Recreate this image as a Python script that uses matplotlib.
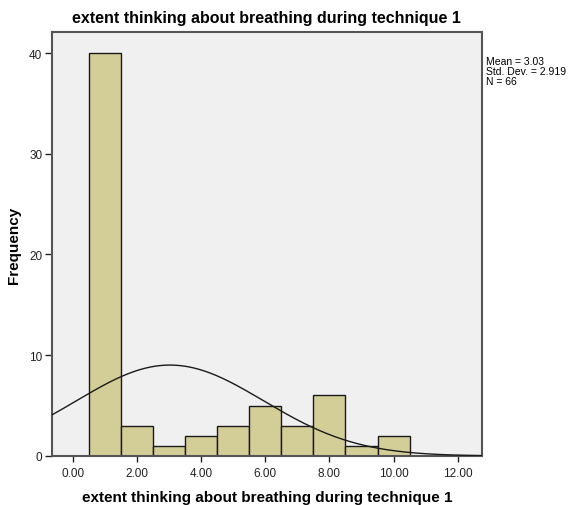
import numpy as np
import matplotlib
matplotlib.use('Agg')
import matplotlib.pyplot as plt

plt.rcParams['font.family'] = ['Liberation Sans', 'DejaVu Sans']

# histogram data (bin centres and counts)
bin_centres = [1, 2, 3, 4, 5, 6, 7, 8, 9, 10]
counts = [40, 3, 1, 2, 3, 5, 3, 6, 1, 2]
mean = 3.03
std = 2.919
n = 66

x_ticks = [0, 2, 4, 6, 8, 10, 12]
x_labels = ['0.00', '2.00', '4.00', '6.00', '8.00', '10.00', '12.00']
y_ticks = [0, 10, 20, 30, 40]

fig = plt.figure(figsize=(5.77, 5.06), dpi=100)
ax = fig.add_axes([0.090, 0.097, 0.745, 0.838])
ax.set_facecolor('#f0f0f0')

ax.bar(bin_centres, counts, width=1.0, color='#d3ce97', edgecolor='#1a1a1a', linewidth=1.0, zorder=2)

# normal curve scaled to counts (bin width 1)
xs = np.linspace(-0.65, 12.75, 400)
ys = n * 1.0 / (std * np.sqrt(2 * np.pi)) * np.exp(-0.5 * ((xs - mean) / std) ** 2)
ax.plot(xs, ys, color='#1a1a1a', linewidth=1.0, zorder=3)

ax.set_xlim(-0.65, 12.75)
ax.set_ylim(0, 42.1)
ax.set_xticks(x_ticks)
ax.set_xticklabels(x_labels)
ax.set_yticks(y_ticks)
ax.tick_params(axis='both', labelsize=8.5, colors='#222222', length=5, width=1, direction='out', pad=2)
ax.tick_params(axis='x', length=4, pad=4)

for s in ax.spines.values():
    s.set_color('#555555')
    s.set_linewidth(1.5)

ax.set_title('extent thinking about breathing during technique 1', fontsize=11.5, fontweight='bold', pad=7)
ax.set_xlabel('extent thinking about breathing during technique 1', fontsize=11, fontweight='bold', labelpad=8)
ax.set_ylabel('Frequency', fontsize=11, fontweight='bold', labelpad=6)

fig.text(0.843, 0.888, 'Mean = %.2f\nStd. Dev. = %.3f\nN = %d' % (mean, std, n),
         fontsize=7.5, va='top', ha='left', linespacing=1.0)

fig.savefig('out.png', dpi=100)
